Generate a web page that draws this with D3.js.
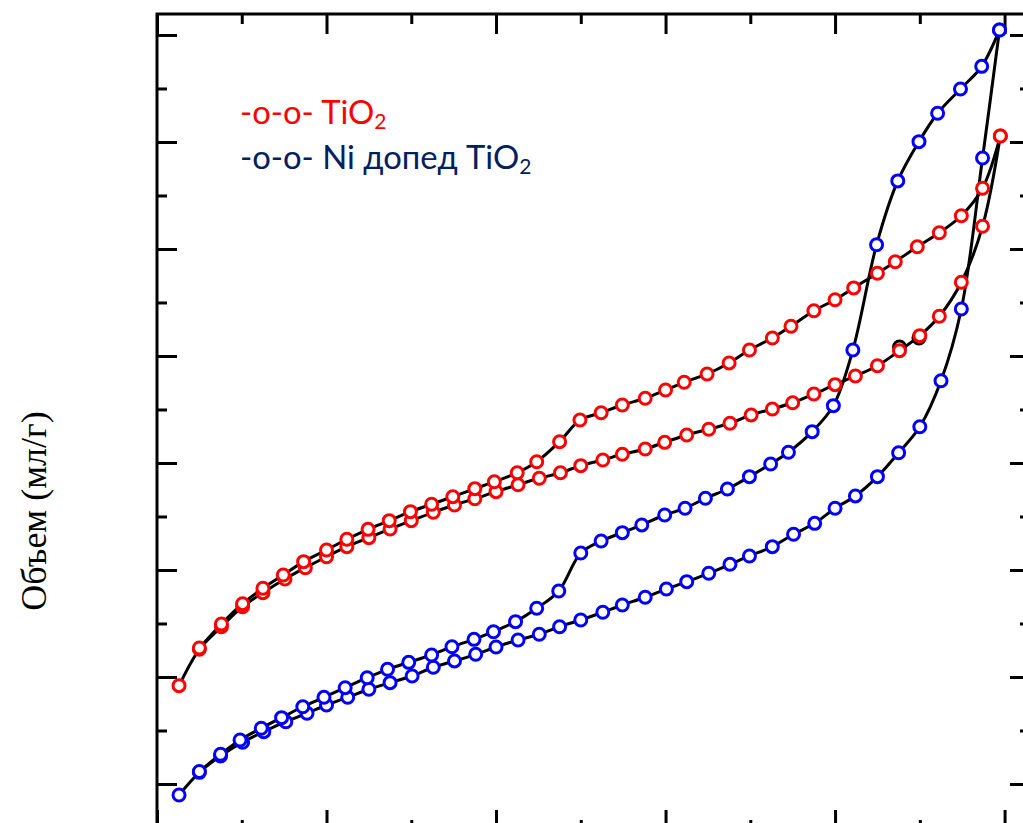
<!DOCTYPE html>
<html>
<head>
<meta charset="utf-8">
<script src="https://cdn.jsdelivr.net/npm/d3@7"></script>
<style>
  html, body { margin: 0; padding: 0; background: #fff; overflow: hidden; }
  svg { display: block; }
</style>
</head>
<body>
<div id="chart"></div>
<script>
// N2 sorption isotherms, relative pressure P/P0 vs volume (arbitrary units, no tick labels in source)

// TiO2 — adsorption branch
const tiAdsX = [0.026, 0.050, 0.076, 0.101, 0.125, 0.151, 0.175, 0.200, 0.224, 0.250,
  0.275, 0.300, 0.326, 0.351, 0.375, 0.400, 0.426, 0.451, 0.476, 0.500,
  0.526, 0.549, 0.576, 0.599, 0.625, 0.651, 0.676, 0.701, 0.726, 0.750,
  0.775, 0.800, 0.824, 0.850, 0.876, 0.900, 0.923, 0.949, 0.974, 0.995];
const tiAdsY = [0.919, 1.259, 1.470, 1.657, 1.788, 1.916, 2.021, 2.124, 2.218, 2.302,
  2.383, 2.461, 2.539, 2.607, 2.666, 2.732, 2.797, 2.857, 2.909, 2.975,
  3.028, 3.081, 3.131, 3.193, 3.262, 3.315, 3.371, 3.449, 3.505, 3.563,
  3.645, 3.732, 3.813, 3.909, 4.050, 4.190, 4.371, 4.689, 5.212, 6.056];

// TiO2 — desorption branch
const tiDesX = [0.995, 0.974, 0.949, 0.923, 0.897, 0.871, 0.850, 0.822, 0.800, 0.775,
  0.748, 0.726, 0.699, 0.675, 0.649, 0.622, 0.600, 0.576, 0.549, 0.524,
  0.499, 0.475, 0.448, 0.425, 0.398, 0.375, 0.349, 0.324, 0.299, 0.274,
  0.249, 0.224, 0.200, 0.173, 0.149, 0.125, 0.101, 0.076, 0.050];
const tiDesY = [6.056, 5.567, 5.311, 5.152, 5.021, 4.881, 4.773, 4.636, 4.526, 4.423,
  4.278, 4.168, 4.056, 3.935, 3.832, 3.754, 3.682, 3.605, 3.542, 3.469,
  3.402, 3.199, 3.012, 2.909, 2.825, 2.760, 2.685, 2.614, 2.545, 2.461,
  2.380, 2.287, 2.187, 2.078, 1.953, 1.829, 1.685, 1.495, 1.271];

// Ni-doped TiO2 — adsorption branch
const niAdsX = [0.026, 0.050, 0.075, 0.101, 0.126, 0.152, 0.177, 0.200, 0.225, 0.250,
  0.275, 0.301, 0.326, 0.351, 0.376, 0.400, 0.426, 0.451, 0.475, 0.500,
  0.526, 0.549, 0.576, 0.601, 0.625, 0.651, 0.676, 0.699, 0.726, 0.751,
  0.776, 0.800, 0.824, 0.850, 0.875, 0.900, 0.925, 0.949, 0.974, 0.994];
const niAdsY = [-0.103, 0.109, 0.262, 0.390, 0.489, 0.582, 0.661, 0.738, 0.810, 0.885,
  0.947, 1.009, 1.091, 1.150, 1.212, 1.280, 1.346, 1.399, 1.470, 1.533,
  1.605, 1.673, 1.745, 1.822, 1.891, 1.969, 2.053, 2.131, 2.218, 2.334,
  2.436, 2.577, 2.692, 2.872, 3.096, 3.339, 3.769, 4.439, 5.850, 7.047];

// Ni-doped TiO2 — desorption branch
const niDesX = [0.994, 0.973, 0.948, 0.921, 0.899, 0.874, 0.849, 0.821, 0.798, 0.773,
  0.745, 0.724, 0.699, 0.673, 0.647, 0.623, 0.599, 0.572, 0.549, 0.524,
  0.500, 0.474, 0.448, 0.423, 0.397, 0.374, 0.348, 0.324, 0.297, 0.272,
  0.248, 0.222, 0.197, 0.172, 0.147, 0.123, 0.098, 0.075, 0.050];
const niDesY = [7.047, 6.707, 6.495, 6.268, 6.003, 5.636, 5.040, 4.056, 3.536, 3.293,
  3.100, 2.991, 2.872, 2.757, 2.670, 2.577, 2.514, 2.421, 2.349, 2.271,
  2.159, 1.804, 1.642, 1.517, 1.423, 1.352, 1.283, 1.206, 1.137, 1.072,
  0.993, 0.900, 0.810, 0.722, 0.620, 0.521, 0.411, 0.278, 0.117];

// two stray black markers peeking behind the red desorption points
const strayX = [0.876, 0.899];
const strayY = [4.084, 4.168];

const xMajor = [0, 0.2, 0.4, 0.6, 0.8, 1.0];
const xMinor = [0.1, 0.3, 0.5, 0.7, 0.9];
const yMajor = [0, 1, 2, 3, 4, 5, 6, 7];
const yMinor = [-0.5, 0.5, 1.5, 2.5, 3.5, 4.5, 5.5, 6.5];

const legendRed = 'TiO';
const legendNavy = 'Ni допед TiO';
const yLabel = 'Объем (мл/г)';

const W = 1023, H = 823;
const frame = { left: 157, top: 14, right: 1030, bottom: 830 };

const svg = d3.select('#chart').append('svg').attr('width', W).attr('height', H);

const x = d3.scaleLinear().domain([0, 1.03]).range([frame.left, frame.right]);
const y = d3.scaleLinear().domain([-0.43, 7.196]).range([frame.bottom, frame.top]);

function zip(xs, ys) { return xs.map((v, i) => ({ x: v, y: ys[i] })); }

// ticks, all pointing inward, no labels
function ticks(axisFn, scale, vals, size, transform) {
  const g = svg.append('g').attr('transform', transform)
    .call(axisFn(scale).tickValues(vals).tickSize(size).tickFormat(''));
  g.select('.domain').remove();
  g.selectAll('line').attr('stroke', '#000').attr('stroke-width', 3);
}
ticks(d3.axisTop, x, xMajor, 20, `translate(0,${frame.bottom})`);
ticks(d3.axisTop, x, xMinor, 10, `translate(0,${frame.bottom})`);
ticks(d3.axisBottom, x, xMajor, 20, `translate(0,${frame.top})`);
ticks(d3.axisBottom, x, xMinor, 10, `translate(0,${frame.top})`);
ticks(d3.axisRight, y, yMajor, 20, `translate(${frame.left},0)`);
ticks(d3.axisRight, y, yMinor, 10, `translate(${frame.left},0)`);
ticks(d3.axisLeft, y, yMajor, 20, `translate(${frame.right},0)`);
ticks(d3.axisLeft, y, yMinor, 10, `translate(${frame.right},0)`);

svg.append('rect')
  .attr('x', frame.left).attr('y', frame.top)
  .attr('width', frame.right - frame.left).attr('height', frame.bottom - frame.top)
  .attr('fill', 'none').attr('stroke', '#000').attr('stroke-width', 3);

const series = [
  { pts: zip(tiAdsX, tiAdsY), color: '#ff0000' },
  { pts: zip(tiDesX, tiDesY), color: '#ff0000' },
  { pts: zip(niAdsX, niAdsY), color: '#0000ff' },
  { pts: zip(niDesX, niDesY), color: '#0000ff' },
];

const line = d3.line().x(d => x(d.x)).y(d => y(d.y)).curve(d3.curveCatmullRom.alpha(0.5));

series.forEach(s => {
  svg.append('path').datum(s.pts)
    .attr('fill', 'none').attr('stroke', '#000').attr('stroke-width', 3)
    .attr('stroke-linejoin', 'round').attr('d', line);
});

svg.selectAll('.stray').data(zip(strayX, strayY)).enter().append('circle')
  .attr('cx', d => x(d.x)).attr('cy', d => y(d.y)).attr('r', 6)
  .attr('fill', '#fff').attr('stroke', '#000').attr('stroke-width', 3);

series.forEach(s => {
  svg.append('g').selectAll('circle').data(s.pts).enter().append('circle')
    .attr('cx', d => x(d.x)).attr('cy', d => y(d.y)).attr('r', 6)
    .attr('fill', '#fff').attr('stroke', s.color).attr('stroke-width', 3);
});

// legend
function legendLine(yPos, color, label) {
  const t = svg.append('text').attr('x', 240).attr('y', yPos)
    .style('font-family', "Lato, 'Open Sans', sans-serif").style('font-size', '32.8px')
    .attr('fill', color);
  t.append('tspan').text('-o-o- ' + label);
  t.append('tspan').attr('dy', 5).style('font-size', '21px').text('2');
}
legendLine(124, '#ff0000', legendRed);
legendLine(169, '#002060', legendNavy);

svg.append('text')
  .attr('transform', 'translate(46,511) rotate(-90)')
  .attr('text-anchor', 'middle')
  .style('font-family', "'Liberation Serif', 'Times New Roman', serif")
  .style('font-size', '36px')
  .attr('fill', '#000')
  .text(yLabel);
</script>
</body>
</html>
